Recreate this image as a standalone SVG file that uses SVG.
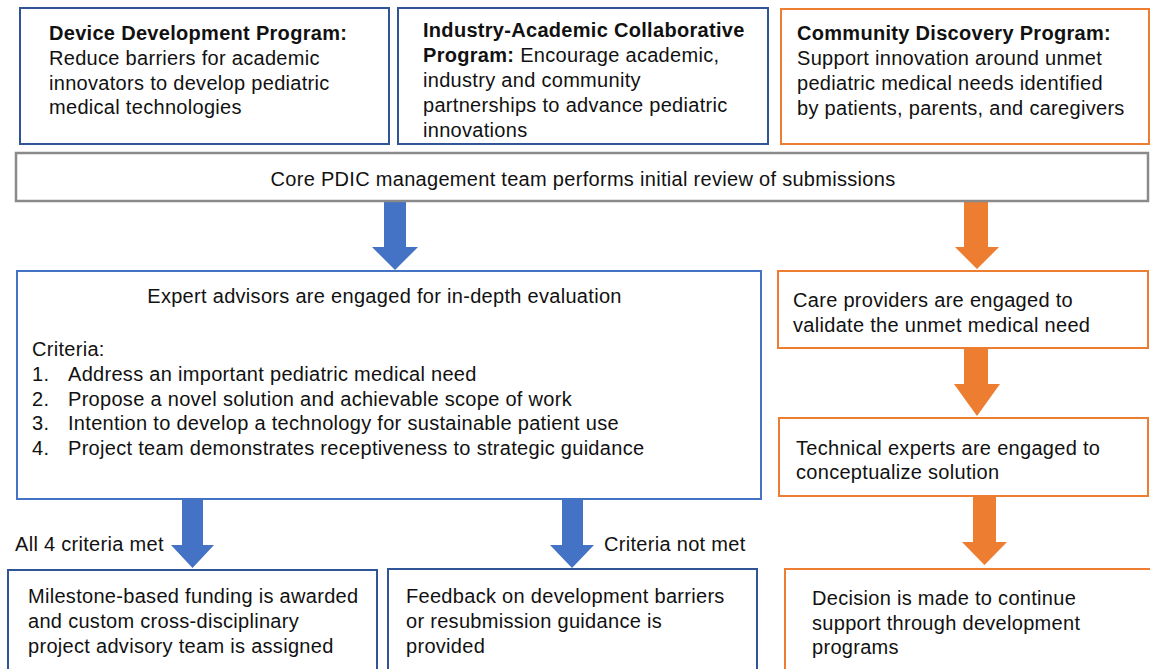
<svg xmlns="http://www.w3.org/2000/svg" width="1150" height="669" viewBox="0 0 1150 669">
<style>
text{font-family:"Liberation Sans",Arial,Helvetica,sans-serif;font-size:20px;letter-spacing:0.3px;fill:#111}
.b{font-weight:bold}
.dk{fill:#fff;stroke:#2F5597;stroke-width:2}
.lb{fill:#fff;stroke:#4472C4;stroke-width:2}
.or{fill:#fff;stroke:#ED7D31;stroke-width:2}
.gr{fill:#fff;stroke:#8a8a8a;stroke-width:2.5}
.ab{fill:#4472C4}
.ao{fill:#ED7D31}
</style>
<rect width="1150" height="669" fill="#fff"/>
<g id="connectors">
<polygon class="ab" points="384,202 406,202 406,247 418,247 395,270 372,247 384,247"/>
<polygon class="ab" points="182,500 203,500 203,545 214,545 192.5,568 171,545 182,545"/>
<polygon class="ab" points="562,500 583,500 583,545 594,545 572,568 550,545 562,545"/>
<polygon class="ao" points="964,202 988,202 988,247 999,247 977,269 955,247 964,247"/>
<polygon class="ao" points="964,348 988,348 988,384 1000,384 977,416 954,384 964,384"/>
<polygon class="ao" points="973,496 996,496 996,542 1007,542 984.5,565 962,542 973,542"/>
<text x="15" y="551">All 4 criteria met</text>
<text x="604" y="551">Criteria not met</text>
</g>
<g id="device-dev">
<rect class="dk" x="20" y="8" width="369" height="136"/>
<text x="49" y="39.5"><tspan class="b">Device Development Program:</tspan></text>
<text x="49" y="65">Reduce barriers for academic</text>
<text x="49" y="90">innovators to develop pediatric</text>
<text x="49" y="114">medical technologies</text>
</g>
<g id="industry-academic">
<rect class="dk" x="398" y="8" width="370" height="136"/>
<text x="423" y="37"><tspan class="b">Industry-Academic Collaborative</tspan></text>
<text x="423" y="62"><tspan class="b">Program:</tspan> Encourage academic,</text>
<text x="423" y="87">industry and community</text>
<text x="423" y="112">partnerships to advance pediatric</text>
<text x="423" y="137">innovations</text>
</g>
<g id="community-discovery">
<rect class="or" x="781" y="9" width="368" height="135"/>
<text x="797" y="39.5"><tspan class="b">Community Discovery Program:</tspan></text>
<text x="797" y="64.5">Support innovation around unmet</text>
<text x="797" y="89.5">pediatric medical needs identified</text>
<text x="797" y="114.5">by patients, parents, and caregivers</text>
</g>
<g id="core-review">
<rect class="gr" x="16" y="153" width="1132" height="48"/>
<text x="583" y="185.5" text-anchor="middle">Core PDIC management team performs initial review of submissions</text>
</g>
<g id="expert-eval">
<rect class="lb" x="17" y="271" width="744" height="228"/>
<text x="384.5" y="303" text-anchor="middle">Expert advisors are engaged for in-depth evaluation</text>
<text x="32" y="356">Criteria:</text>
<text x="32" y="381">1.</text><text x="68" y="381">Address an important pediatric medical need</text>
<text x="32" y="406">2.</text><text x="68" y="406">Propose a novel solution and achievable scope of work</text>
<text x="32" y="430">3.</text><text x="68" y="430">Intention to develop a technology for sustainable patient use</text>
<text x="32" y="455">4.</text><text x="68" y="455">Project team demonstrates receptiveness to strategic guidance</text>
</g>
<g id="care-providers">
<rect class="or" x="778" y="271" width="370" height="77"/>
<text x="793" y="307">Care providers are engaged to</text>
<text x="793" y="332">validate the unmet medical need</text>
</g>
<g id="technical-experts">
<rect class="or" x="779" y="418" width="369" height="78"/>
<text x="796" y="455">Technical experts are engaged to</text>
<text x="796" y="479">conceptualize solution</text>
</g>
<g id="milestone-funding">
<rect class="dk" x="8" y="570" width="369" height="110"/>
<text x="28" y="603">Milestone-based funding is awarded</text>
<text x="28" y="628">and custom cross-disciplinary</text>
<text x="28" y="653">project advisory team is assigned</text>
</g>
<g id="feedback">
<rect class="dk" x="388" y="569" width="369" height="111"/>
<text x="406" y="603">Feedback on development barriers</text>
<text x="406" y="628">or resubmission guidance is</text>
<text x="406" y="653">provided</text>
</g>
<g id="decision">
<rect class="or" x="785" y="569" width="380" height="111"/>
<text x="812" y="605">Decision is made to continue</text>
<text x="812" y="630">support through development</text>
<text x="812" y="654">programs</text>
</g>
</svg>
